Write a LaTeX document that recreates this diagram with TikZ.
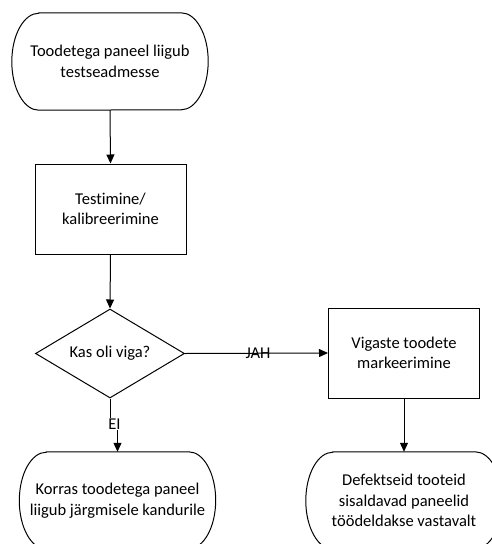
\documentclass[tikz,border=0pt]{standalone}
\usepackage{fontspec}
\setmainfont{Carlito}[Ligatures=NoCommon]
\usetikzlibrary{shapes.geometric,arrows.meta,calc}

% outline of a terminal node: straight top and bottom, elliptical ends
\newcommand\stadiumoutline[1]{%
  \draw[outline]
    ($(#1.north west)+(27pt,0)$) -- ($(#1.north east)+(-27pt,0)$)
    arc[start angle=90,end angle=-90,x radius=27pt,y radius=48.5pt]
    -- ($(#1.south west)+(27pt,0)$)
    arc[start angle=270,end angle=90,x radius=27pt,y radius=48.5pt]
    -- cycle;}

\begin{document}
\begin{tikzpicture}[x=1pt,y=-1pt,
  font=\fontsize{16.5}{20.5}\selectfont,
  outline/.style={draw=black,line width=1pt},
  terminal/.style={rectangle,minimum width=196pt,minimum height=97pt,
    inner sep=0pt,align=center},
  process/.style={rectangle,outline,minimum width=151pt,minimum height=90pt,
    inner sep=0pt,align=center},
  decision/.style={diamond,outline,aspect=1.67,minimum width=149pt,
    minimum height=89pt,inner sep=0pt,align=center},
  flow/.style={line width=1pt,-{Triangle[length=9pt,width=8pt]}},
  lbl/.style={fill=white,inner sep=1pt}]
\useasboundingbox (0,0) rectangle (491,544);

\node[terminal] (start) at (110,61.5) {Toodetega paneel liigub\\testseadmesse};
\stadiumoutline{start}
\node[process] (test) at (110.5,209) {Testimine/\\kalibreerimine};
\node[decision] (check) at (110,353.5) {Kas oli viga?};
\node[process] (mark) at (404,353) {Vigaste toodete\\markeerimine};
\node[terminal] (ok) at (117.5,500.5) {Korras toodetega paneel\\liigub järgmisele kandurile};
\stadiumoutline{ok}
\node[terminal] (bad) at (404,500.5) {Defektseid tooteid\\sisaldavad paneelid\\töödeldakse vastavalt};
\stadiumoutline{bad}

\draw[flow] (start.south) -- (test.north);
\draw[flow] (test.south) -- (check.north);
\draw[flow] (check.east) -- node[inner sep=0pt,pos=0.51] (yes) {JAH} (mark.west);
\coordinate (bendA) at (check.south |- 0,425);
\coordinate (bendB) at (ok.north |- 0,425);
\draw[flow] (check.south) -- (bendA) -- (bendB) -- (ok.north);
\node[lbl] (no) at (114.5,424) {EI};
\draw[flow] (mark.south) -- (bad.north);
\end{tikzpicture}
\end{document}
